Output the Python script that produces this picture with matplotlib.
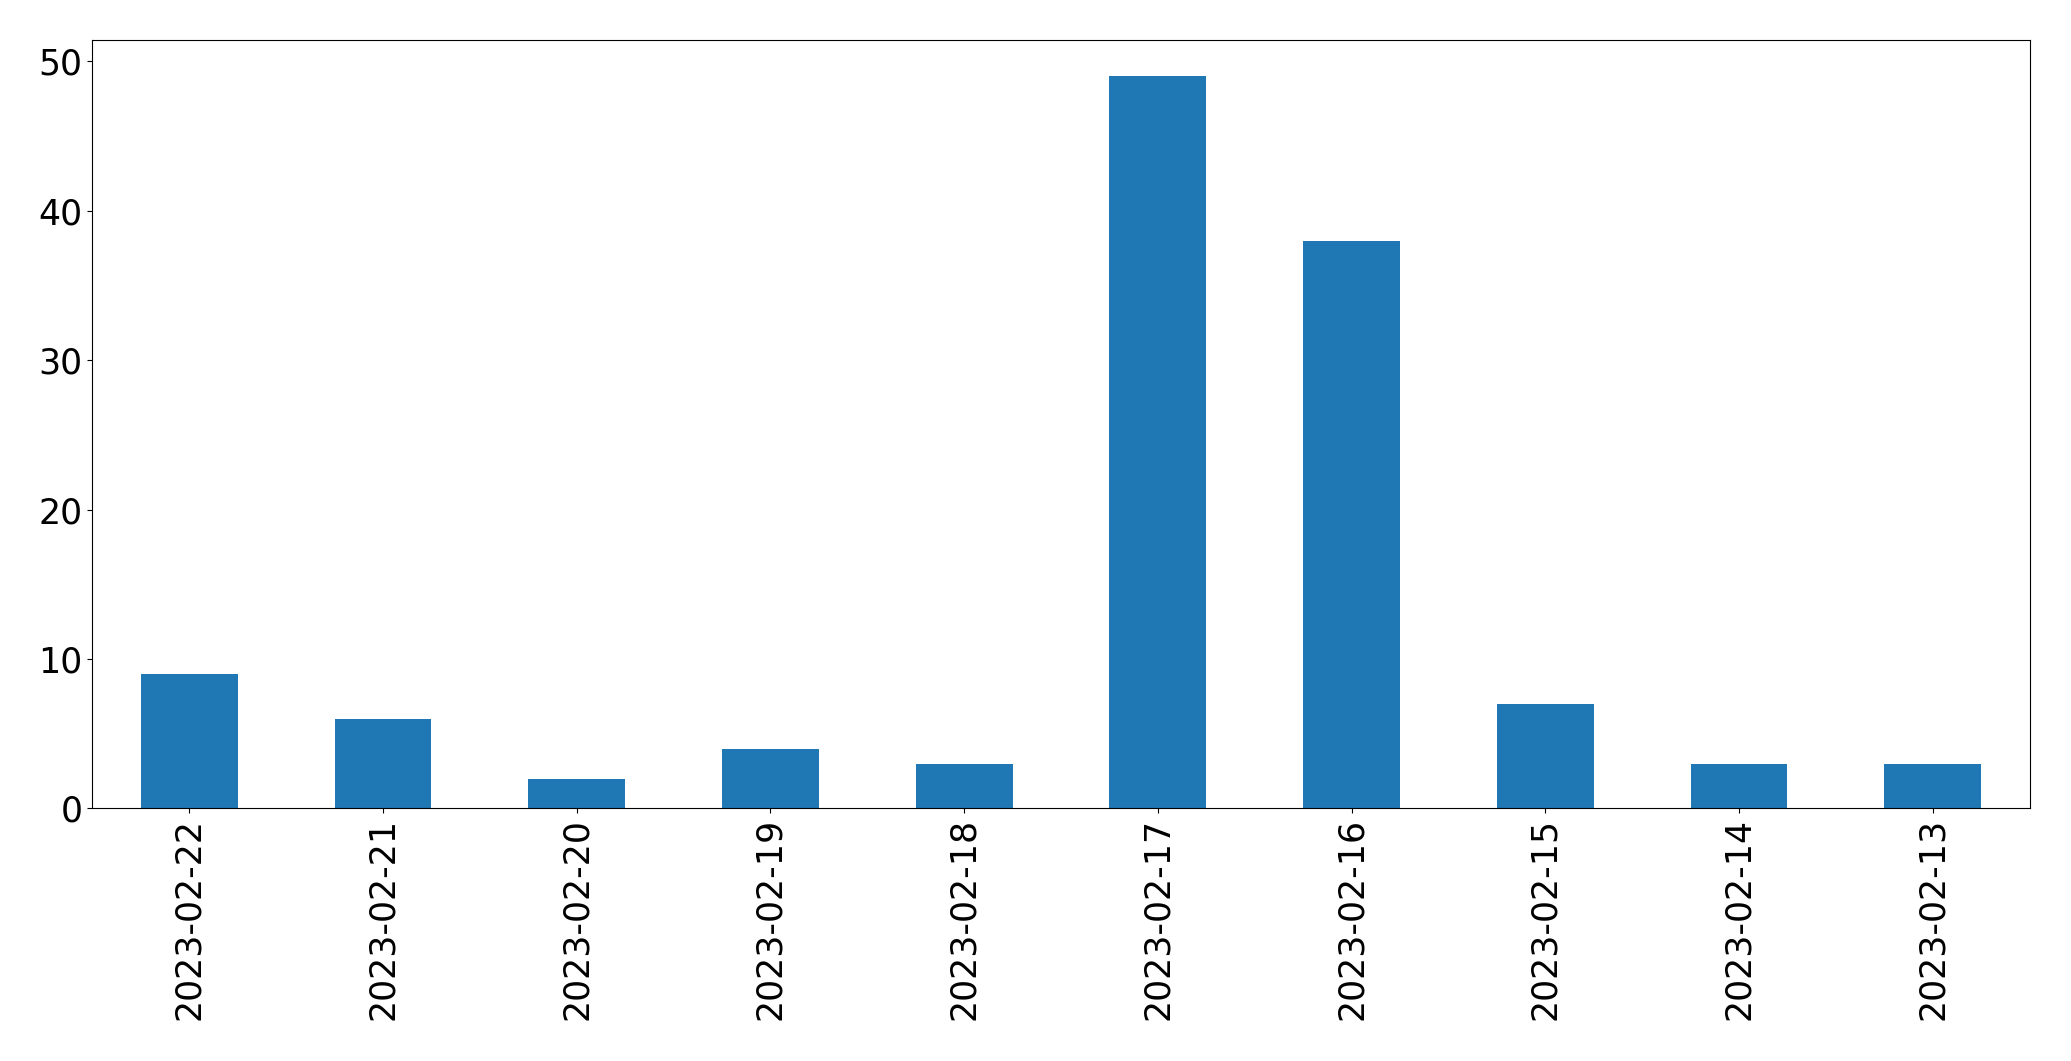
import matplotlib
matplotlib.use("Agg")
import matplotlib.pyplot as plt
import numpy as np

dates = ["2023-02-22", "2023-02-21", "2023-02-20", "2023-02-19", "2023-02-18",
         "2023-02-17", "2023-02-16", "2023-02-15", "2023-02-14", "2023-02-13"]
counts = [9, 6, 2, 4, 3, 49, 38, 7, 3, 3]

fig = plt.figure(figsize=(20.71, 10.61), dpi=100)
ax = fig.add_axes([0.0446, 0.238, 0.9354, 0.7246])
x = np.arange(len(dates))
ax.bar(x, counts, width=0.5, color="#1f77b4")
ax.set_xlim(-0.5, len(dates) - 0.5)
ax.set_ylim(0, 51.45)
ax.set_xticks(x)
ax.set_xticklabels(dates, rotation=90)
ax.tick_params(labelsize=25)
fig.savefig("out.png", dpi=100)
